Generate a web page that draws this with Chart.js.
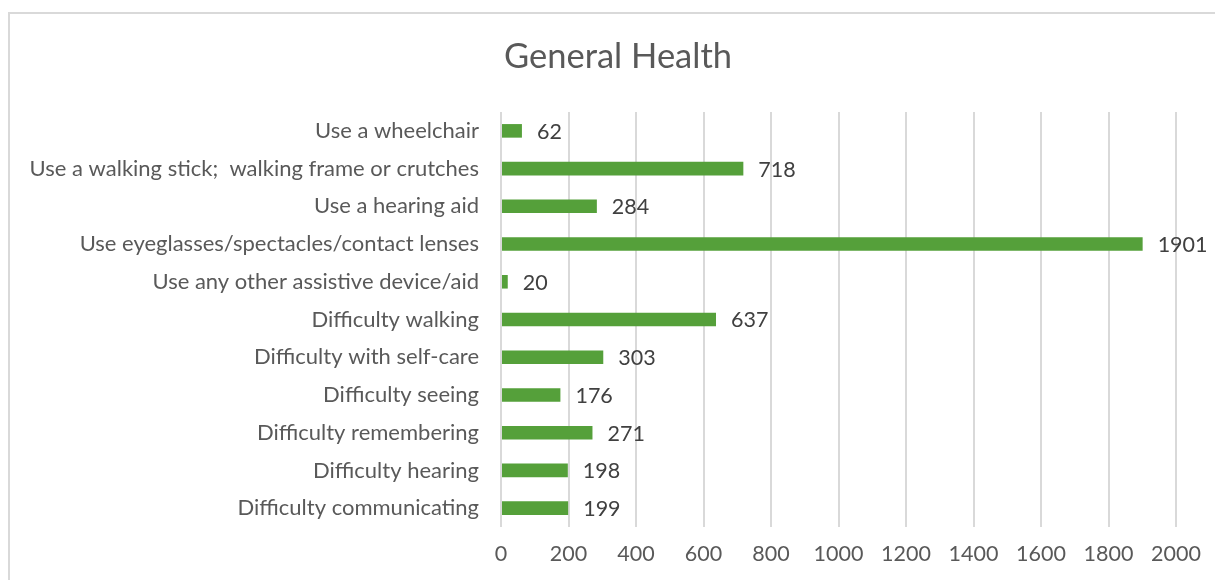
<!DOCTYPE html>
<html>
<head>
<meta charset="utf-8">
<script src="https://cdn.jsdelivr.net/npm/chart.js@4.4.1/dist/chart.umd.min.js"></script>
<style>
  html, body { margin: 0; padding: 0; background: #fff; }
  #wrap { position: relative; width: 1215px; height: 580px; overflow: hidden; }
  #frame { position: absolute; left: 8px; top: 12px; width: 1300px; height: 700px;
           border-left: 2px solid #d9d9d9; border-top: 2px solid #d9d9d9; }
  canvas { position: absolute; left: 0; top: 0; }
</style>
</head>
<body>
<div id="wrap">
  <div id="frame"></div>
  <canvas id="chart" width="1215" height="580"></canvas>
</div>
<script>
const categories = [
  'Use a wheelchair',
  'Use a walking stick;  walking frame or crutches',
  'Use a hearing aid',
  'Use eyeglasses/spectacles/contact lenses',
  'Use any other assistive device/aid',
  'Difficulty walking',
  'Difficulty with self-care',
  'Difficulty seeing',
  'Difficulty remembering',
  'Difficulty hearing',
  'Difficulty communicating'
];
const counts = [62, 718, 284, 1901, 20, 637, 303, 176, 271, 198, 199];
const xTicks = [0, 200, 400, 600, 800, 1000, 1200, 1400, 1600, 1800, 2000];
const chartTitle = 'General Health';

const fontFamily = 'Lato, "Open Sans", sans-serif';

// title over the whole frame, and value labels next to each bar
const extras = {
  id: 'extras',
  afterDraw(chart) {
    const ctx = chart.ctx;
    ctx.save();
    ctx.font = '34.5px ' + fontFamily;
    ctx.fillStyle = '#595959';
    ctx.textAlign = 'center';
    ctx.textBaseline = 'middle';
    ctx.fillText(chartTitle, 618, 57);
    ctx.restore();
  },
  afterDatasetsDraw(chart) {
    const ctx = chart.ctx;
    const meta = chart.getDatasetMeta(0);
    ctx.save();
    ctx.font = '21.5px ' + fontFamily;
    ctx.fillStyle = '#404040';
    ctx.textAlign = 'left';
    ctx.textBaseline = 'middle';
    meta.data.forEach((bar, i) => {
      ctx.fillText(String(counts[i]), bar.x + 15, bar.y + 1);
    });
    ctx.restore();
  }
};

new Chart(document.getElementById('chart'), {
  type: 'bar',
  data: {
    labels: categories,
    datasets: [{
      data: counts,
      backgroundColor: '#55A03A',
      borderWidth: 0,
      categoryPercentage: 1,
      barPercentage: 0.36
    }]
  },
  options: {
    indexAxis: 'y',
    responsive: false,
    animation: false,
    layout: { padding: { left: 0, right: 38, top: 112, bottom: 0 } },
    plugins: {
      legend: { display: false },
      tooltip: { enabled: false },
      title: { display: false }
    },
    scales: {
      x: {
        min: 0,
        max: 2000,
        afterBuildTicks(scale) { scale.ticks = xTicks.map(v => ({ value: v })); },
        grid: { color: '#d9d9d9', lineWidth: 2, drawTicks: false },
        border: { display: false },
        ticks: {
          color: '#595959', padding: 14, font: { family: fontFamily, size: 21.5 },
          callback: v => String(v)
        },
        afterFit(scale) { scale.height = 53; }
      },
      y: {
        grid: { display: false, drawTicks: false },
        border: { display: false },
        ticks: { color: '#595959', padding: 22, font: { family: fontFamily, size: 22 }, autoSkip: false },
        afterFit(scale) { scale.width = 501; }
      }
    }
  },
  plugins: [extras]
});
</script>
</body>
</html>
